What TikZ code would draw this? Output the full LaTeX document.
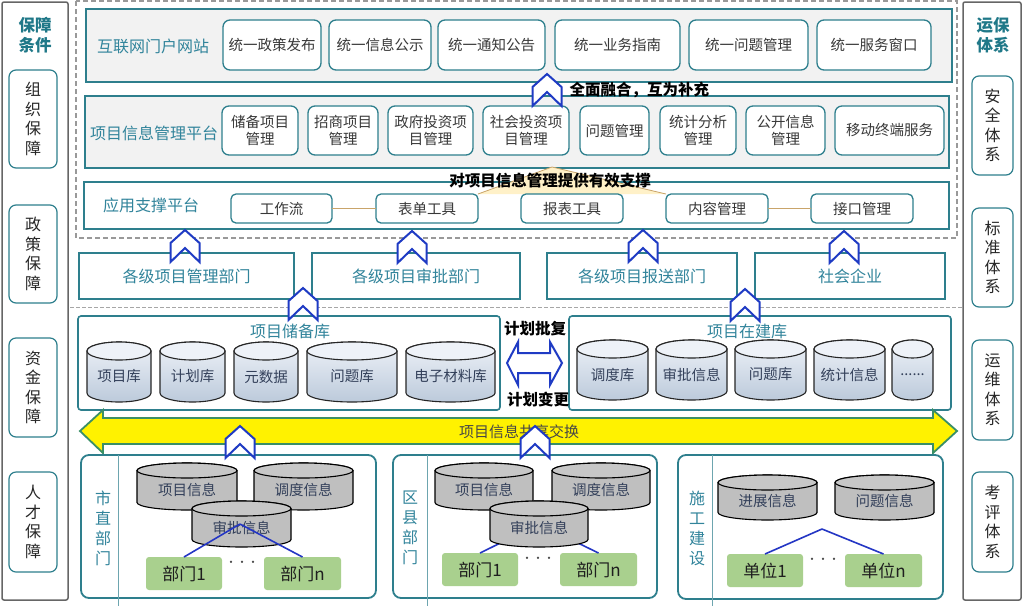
\documentclass[tikz,border=0pt]{standalone}
\usepackage{fontspec}
\setmainfont{Noto Sans CJK SC}
\definecolor{teal1}{HTML}{2E7F8D}
\definecolor{tealt}{HTML}{31849B}
\definecolor{tealh}{HTML}{1F7888}
\definecolor{chevb}{HTML}{1F3BC4}
\definecolor{grn}{HTML}{A9D08E}
\definecolor{yarrb}{HTML}{3A8F66}
\definecolor{panelg}{HTML}{F2F2F2}
\definecolor{cylhi}{HTML}{EEF2F8}
\definecolor{cyllo}{HTML}{BCCADB}
\definecolor{cylt}{HTML}{33405A}
\definecolor{glowc}{HTML}{FFF1C8}
\definecolor{roofc}{HTML}{C9A46A}
\definecolor{blin}{HTML}{2436C4}
\newcommand\bx[7][]{\node[#1,minimum width={(#5-#3)*1pt},minimum height={(#6-#4)*1pt},inner sep=0pt,outer sep=0pt] (#2) at ({(#3+#5)/2},{(#4+#6)/2}) {#7};}
\newcommand\cyl[9][]{%
 \pgfmathsetmacro\ca{#3}\pgfmathsetmacro\cb{#5}%
 \pgfmathsetmacro\cc{(#3+#5)/2}\pgfmathsetmacro\crx{(#5-#3)/2}%
 \pgfmathsetmacro\cty{#4+#7}\pgfmathsetmacro\cby{#6-#7}%
 \pgfmathsetmacro\kx{0.5523*\crx}\pgfmathsetmacro\ky{0.5523*#7}%
 \path[#1] (\ca,\cty) -- (\ca,\cby) .. controls (\ca,\cby+\ky) and (\cc-\kx,#6) .. (\cc,#6) .. controls (\cc+\kx,#6) and (\cb,\cby+\ky) .. (\cb,\cby) -- (\cb,\cty) .. controls (\cb,\cty-\ky) and (\cc+\kx,#4) .. (\cc,#4) .. controls (\cc-\kx,#4) and (\ca,\cty-\ky) .. (\ca,\cty) -- cycle;
 \path[#8] (\cc,\cty) ellipse [x radius=\crx, y radius=#7];
 \node[cyltext] (#2) at (\cc,{(\cty+#6)/2}) {#9};}
\newcommand\chev[3]{\draw[chev] (#2,#3) coordinate (#1) -- ++(14.5,13) -- ++(0,19) -- (#2,#3+18) -- ({#2-14.5},#3+32) -- ++(0,-19) -- cycle;}
\begin{document}
\begin{tikzpicture}[x=1pt,y=-1pt,
  frame/.style={draw=black!60,line width=1.5pt,rounded corners=2pt},
  panel/.style={draw=teal1,line width=1.8pt},
  plabel/.style={text=tealt,font=\fontsize{16}{19}\selectfont},
  ibox/.style={draw=teal1,line width=1.3pt,rounded corners=7pt,fill=white,text=black!78,align=center,font=\fontsize{14.5}{16.5}\selectfont},
  sbox/.style={draw=teal1,line width=1.3pt,rounded corners=5pt,fill=white,text=black!78,font=\fontsize{14.5}{17}\selectfont},
  dept/.style={draw=teal1,line width=1.6pt,fill=white,text=tealt,font=\fontsize{16}{19}\selectfont},
  side/.style={draw=teal1,line width=1.2pt,rounded corners=7pt,fill=white,align=center,text=black!85,font=\fontsize{16}{19.5}\selectfont},
  sidetitle/.style={text=tealh,align=center,font=\bfseries\fontsize{16.5}{20}\selectfont},
  boldt/.style={text=black,font=\bfseries\fontsize{15.5}{18}\selectfont},
  chev/.style={draw=chevb,line width=2pt,fill=white,line join=miter},
  libbox/.style={draw=teal1,line width=1.6pt,rounded corners=3pt,fill=white},
  cylb/.style={draw=black!85,line width=1.1pt,top color=cylhi,bottom color=cyllo},
  cyltb/.style={draw=black!85,line width=1.1pt,fill=cylhi},
  cylg/.style={draw=black,line width=1.1pt,fill=black!25},
  cyltg/.style={draw=black,line width=1.1pt,fill=black!22},
  cyltext/.style={text=cylt,font=\fontsize{14.5}{17}\selectfont},
  botbox/.style={draw=teal1,line width=1.8pt,rounded corners=8pt,fill=white},
  divl/.style={draw=teal1!70,line width=0.8pt},
  vlabel/.style={text=tealt,align=center,font=\fontsize{16}{20}\selectfont},
  gbox/.style={fill=grn,rounded corners=3pt,text=black!88,font=\fontsize{17}{20}\selectfont},
  dots/.style={text=black!70,font=\fontsize{11}{12}\selectfont},
  bline/.style={draw=blin,line width=1.6pt}]
\fill[white] (0,0) rectangle (1024,606);
\useasboundingbox (0,0) rectangle (1024,606);
% side columns
\draw[frame] (2,2) rectangle (68,600);
\draw[frame] (963,2) rectangle (1021,600);
\node[sidetitle] (lt) at (35,35) {保障\\条件};
\bx[side]{l1}{9}{70}{57}{168}{组\\织\\保\\障}
\bx[side]{l2}{9}{205}{57}{303}{政\\策\\保\\障}
\bx[side]{l3}{9}{338}{57}{437}{资\\金\\保\\障}
\bx[side]{l4}{9}{472}{57}{572}{人\\才\\保\\障}
\node[sidetitle] (rt) at (993,35) {运保\\体系};
\bx[side]{r1}{972}{76}{1013}{175}{安\\全\\体\\系}
\bx[side]{r2}{972}{208}{1013}{307}{标\\准\\体\\系}
\bx[side]{r3}{972}{340}{1013}{440}{运\\维\\体\\系}
\bx[side]{r4}{972}{472}{1013}{572}{考\\评\\体\\系}
% dashed upper region
\draw[black!40,line width=1.2pt,dash pattern=on 5pt off 3pt] (76,1) rectangle (957,238);
% row 1
\draw[panel,fill=panelg] (86,9) rectangle (952,82);
\node[plabel] (p1) at (153,46) {互联网门户网站};
\bx[ibox]{a1}{223}{20}{321}{70}{统一政策发布}
\bx[ibox]{a2}{329}{20}{431}{70}{统一信息公示}
\bx[ibox]{a3}{438}{20}{545}{70}{统一通知公告}
\bx[ibox]{a4}{555}{20}{680}{70}{统一业务指南}
\bx[ibox]{a5}{689}{20}{808}{70}{统一问题管理}
\bx[ibox]{a6}{817}{20}{931}{70}{统一服务窗口}
% row 2
\draw[panel,fill=panelg] (85,96) rectangle (949,168);
\node[plabel] (p2) at (154,133) {项目信息管理平台};
\bx[ibox]{b1}{222}{106}{298}{155}{储备项目\\管理}
\bx[ibox]{b2}{308}{106}{378}{155}{招商项目\\管理}
\bx[ibox]{b3}{388}{106}{473}{155}{政府投资项\\目管理}
\bx[ibox]{b4}{483}{106}{569}{155}{社会投资项\\目管理}
\bx[ibox]{b5}{580}{106}{649}{155}{问题管理}
\bx[ibox]{b6}{660}{106}{736}{155}{统计分析\\管理}
\bx[ibox]{b7}{746}{106}{825}{155}{公开信息\\管理}
\bx[ibox]{b8}{835}{106}{944}{155}{移动终端服务}
\chev{v0}{547}{74}
\node[boldt,anchor=west] (t0) at (566,90) {全面融合，互为补充};
% row 3
\draw[panel,fill=white] (84,182) rectangle (949,229);
\node[plabel] (p3) at (151,205) {应用支撑平台};
\coordinate (apex) at (552,167);
\fill[glowc] (478,194) -- (apex) -- (666,194) -- cycle;
\bx[sbox]{c1}{231}{194}{332}{223}{工作流}
\bx[sbox]{c2}{376}{194}{478}{223}{表单工具}
\bx[sbox]{c3}{521}{194}{623}{223}{报表工具}
\bx[sbox]{c4}{666}{194}{768}{223}{内容管理}
\bx[sbox]{c5}{811}{194}{913}{223}{接口管理}
\draw[roofc,line width=0.8pt] (c1.east) -- (c2.west);
\draw[roofc,line width=0.8pt] (c2.north east) -- (apex) -- (c4.north west);
\draw[roofc,line width=0.8pt] (c4.east) -- (c5.west);
\node[boldt] (t1) at (550,181) {对项目信息管理提供有效支撑};
% departments
\bx[dept]{d1}{79}{253}{294}{299}{各级项目管理部门}
\bx[dept]{d2}{312}{253}{520}{299}{各级项目审批部门}
\bx[dept]{d3}{547}{253}{737}{299}{各级项目报送部门}
\bx[dept]{d4}{755}{253}{945}{299}{社会企业}
\chev{v1}{185}{230}
\chev{v2}{412}{231}
\chev{v3}{643}{230}
\chev{v4}{844}{231}
\draw[black!35,line width=0.7pt,dash pattern=on 4pt off 2pt] (70,307) -- (963,307);
% libraries
\bx[libbox]{lib1}{78}{316}{500}{410}{}
\bx[libbox]{lib2}{569}{316}{951}{410}{}
\node[plabel] (lib1t) at (290,331) {项目储备库};
\node[plabel] (lib2t) at (747,331) {项目在建库};
\chev{v5}{303}{288}
\chev{v6}{745}{289}
\cyl[cylb]{e1}{87}{342}{151}{402}{9}{cyltb}{项目库}
\cyl[cylb]{e2}{160}{342}{225}{402}{9}{cyltb}{计划库}
\cyl[cylb]{e3}{234}{342}{298}{402}{9}{cyltb}{元数据}
\cyl[cylb]{e4}{307}{342}{397}{402}{9}{cyltb}{问题库}
\cyl[cylb]{e5}{406}{342}{495}{402}{9}{cyltb}{电子材料库}
\cyl[cylb]{f1}{577}{340}{648}{400}{9}{cyltb}{调度库}
\cyl[cylb]{f2}{656}{340}{727}{400}{9}{cyltb}{审批信息}
\cyl[cylb]{f3}{735}{340}{806}{400}{9}{cyltb}{问题库}
\cyl[cylb]{f4}{814}{340}{885}{400}{9}{cyltb}{统计信息}
\cyl[cylb]{f5}{892}{340}{933}{400}{9}{cyltb}{......}
% middle exchange
\node[boldt] (m1) at (535,329) {计划批复};
\node[boldt] (m2) at (538,400) {计划变更};
\draw[chev] (507,363) -- (518,342) -- (518,353) -- (550,353) -- (550,342) -- (562,363) -- (550,385) -- (550,373) -- (518,373) -- (518,385) -- cycle;
% yellow shared-exchange arrow
\draw[draw=yarrb,line width=1.8pt,fill=yellow,line join=miter] (80,431) -- (103,410) -- (103,418) -- (933,418) -- (933,410) -- (957,431) -- (933,453) -- (933,444) -- (103,444) -- (103,453) -- cycle;
\node[text=black!72,font=\fontsize{15}{18}\selectfont] (ya) at (519,432) {项目信息共享交换};
% bottom group 1
\bx[botbox]{g1}{81}{455}{376}{598}{}
\draw[divl] (118,455) -- (118,606);
\node[vlabel] (g1t) at (103,528) {市\\直\\部\\门};
\cyl[cylg]{h1}{137}{463}{237}{510}{7.5}{cyltg}{项目信息}
\cyl[cylg]{h2}{254}{463}{353}{510}{7.5}{cyltg}{调度信息}
\cyl[cylg]{h3}{192}{501}{291}{547}{7.5}{cyltg}{审批信息}
\bx[gbox]{k1}{146}{557}{222}{590}{部门1}
\bx[gbox]{k2}{264}{557}{341}{590}{部门n}
\node[dots] (k0) at (242,564) {···};
\draw[bline] (240,524) -- (k1.north);
\draw[bline] (240,524) -- (k2.north);
% bottom group 2
\bx[botbox]{g2}{393}{455}{657}{598}{}
\draw[divl] (427,455) -- (427,606);
\node[vlabel] (g2t) at (410,528) {区\\县\\部\\门};
\bx[gbox]{k3}{442}{553}{518}{586}{部门1}
\bx[gbox]{k4}{560}{553}{637}{586}{部门n}
\node[dots] (k5d) at (538,560) {···};
\coordinate (qc) at (539,524);
\draw[bline] (qc) -- (k3.north);
\draw[bline] (qc) -- (k4.north);
\cyl[cylg]{h4}{435}{463}{533}{510}{7.5}{cyltg}{项目信息}
\cyl[cylg]{h5}{552}{463}{650}{510}{7.5}{cyltg}{调度信息}
\cyl[cylg]{h6}{490}{501}{588}{547}{7.5}{cyltg}{审批信息}
% bottom group 3
\bx[botbox]{g3}{678}{455}{943}{599}{}
\draw[divl] (712,455) -- (712,606);
\node[vlabel] (g3t) at (697,528) {施\\工\\建\\设};
\cyl[cylg]{h7}{718}{475}{817}{520}{7.5}{cyltg}{进展信息}
\cyl[cylg]{h8}{835}{475}{934}{520}{7.5}{cyltg}{问题信息}
\bx[gbox]{k6}{727}{554}{803}{587}{单位1}
\bx[gbox]{k7}{845}{554}{922}{587}{单位n}
\node[dots] (k8d) at (823,561) {···};
\coordinate (sa) at (822,529);
\draw[bline] (sa) -- (k6.north);
\draw[bline] (sa) -- (k7.north);
% chevrons over the exchange arrow
\chev{v7}{240}{426}
\chev{v8}{535}{426}
\end{tikzpicture}
\end{document}
